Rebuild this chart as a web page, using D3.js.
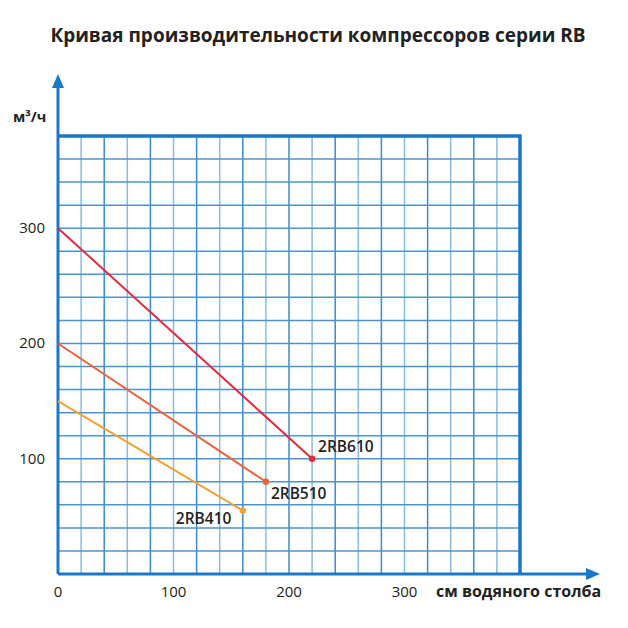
<!DOCTYPE html>
<html>
<head>
<meta charset="utf-8">
<script src="https://cdn.jsdelivr.net/npm/d3@7"></script>
<style>
  body { margin: 0; background: #fff; }
  text { font-family: "Open Sans", "DejaVu Sans", sans-serif; fill: #222; }
</style>
</head>
<body>
<div id="chart"></div>
<script>
// series: start/end points
const seriesNames = ["2RB610", "2RB510", "2RB410"];
const seriesX = [[0, 220], [0, 180], [0, 160]];
const seriesY = [[300, 100], [200, 80], [150, 55]];
const seriesColors = ["#e8283a", "#f0603a", "#f5a033"];

const xTicks = [0, 100, 200, 300];
const yTicks = [100, 200, 300];

const W = 628, H = 628;
const margin = {top: 136, left: 58, right: 108, bottom: 54};
const width = W - margin.left - margin.right;
const height = H - margin.top - margin.bottom;

const svg = d3.select("#chart").append("svg")
    .attr("width", W)
    .attr("height", H);

svg.append("text")
    .attr("x", 318)
    .attr("y", 42)
    .attr("text-anchor", "middle")
    .style("font-size", "19px")
    .style("font-weight", "bold")
    .text("Кривая производительности компрессоров серии RB");

const g = svg.append("g")
    .attr("transform", `translate(${margin.left}, ${margin.top})`);

const x = d3.scaleLinear().domain([0, 400]).range([0, width]);
const y = d3.scaleLinear().domain([0, 380]).range([height, 0]);

// grid every 20 units
const gridX = d3.range(20, 400, 20);
const gridY = d3.range(20, 380, 20);

g.append("g").selectAll("line")
    .data(gridX)
    .join("line")
        .attr("x1", d => x(d)).attr("x2", d => x(d))
        .attr("y1", 0).attr("y2", height)
        .attr("stroke", (d, i) => i % 2 === 0 ? "#86bce6" : "#3a8ad0")
        .attr("stroke-width", 1.5);

g.append("g").selectAll("line")
    .data(gridY)
    .join("line")
        .attr("x1", 0).attr("x2", width)
        .attr("y1", d => y(d)).attr("y2", d => y(d))
        .attr("stroke", "#4a94d4")
        .attr("stroke-width", 1.5);

const axisColor = "#1a78c8";

// top and right border
g.append("path")
    .attr("d", `M0,${y(380)}H${x(400)}V${y(0)}`)
    .attr("fill", "none")
    .attr("stroke", axisColor)
    .attr("stroke-width", 3.5);

// axes with arrows
g.append("line")
    .attr("x1", 0).attr("x2", 0)
    .attr("y1", height).attr("y2", -52)
    .attr("stroke", axisColor).attr("stroke-width", 3);
g.append("path")
    .attr("d", `M-6,-48L0,-62L6,-48Z`)
    .attr("fill", axisColor);

g.append("line")
    .attr("x1", 0).attr("x2", width + 70)
    .attr("y1", height).attr("y2", height)
    .attr("stroke", axisColor).attr("stroke-width", 3);
g.append("path")
    .attr("d", `M${width + 66},${height - 6}L${width + 80},${height}L${width + 66},${height + 6}Z`)
    .attr("fill", axisColor);

// tick labels
g.append("g").selectAll("text")
    .data(xTicks)
    .join("text")
        .attr("x", d => x(d))
        .attr("y", height + 23)
        .attr("text-anchor", "middle")
        .style("font-size", "15px")
        .text(d => d);

g.append("g").selectAll("text")
    .data(yTicks)
    .join("text")
        .attr("x", -13)
        .attr("y", d => y(d) + 5)
        .attr("text-anchor", "end")
        .style("font-size", "15px")
        .text(d => d);

svg.append("text")
    .attr("x", 13)
    .attr("y", 122)
    .style("font-size", "14.5px")
    .style("font-weight", "bold")
    .text("м³/ч");

svg.append("text")
    .attr("x", 436)
    .attr("y", 597)
    .style("font-size", "16px")
    .style("font-weight", "bold")
    .text("см водяного столба");

// series lines
const series = seriesNames.map((name, i) => ({
    name: name,
    color: seriesColors[i],
    points: seriesX[i].map((v, j) => [v, seriesY[i][j]])
}));

const line = d3.line().x(d => x(d[0])).y(d => y(d[1]));

g.append("g").selectAll("path")
    .data(series)
    .join("path")
        .attr("d", d => line(d.points))
        .attr("fill", "none")
        .attr("stroke", d => d.color)
        .attr("stroke-width", 2);

g.append("g").selectAll("circle")
    .data(series)
    .join("circle")
        .attr("cx", d => x(d.points[1][0]))
        .attr("cy", d => y(d.points[1][1]))
        .attr("r", 3.2)
        .attr("fill", d => d.color);

// labels next to end points
const labelOffsets = [[6, -7], [5, 17], [-67, 13]];
g.append("g").selectAll("text")
    .data(series)
    .join("text")
        .attr("x", (d, i) => x(d.points[1][0]) + labelOffsets[i][0])
        .attr("y", (d, i) => y(d.points[1][1]) + labelOffsets[i][1])
        .style("font-size", "15.5px")
        .style("font-weight", "600")
        .text(d => d.name);
</script>
</body>
</html>
